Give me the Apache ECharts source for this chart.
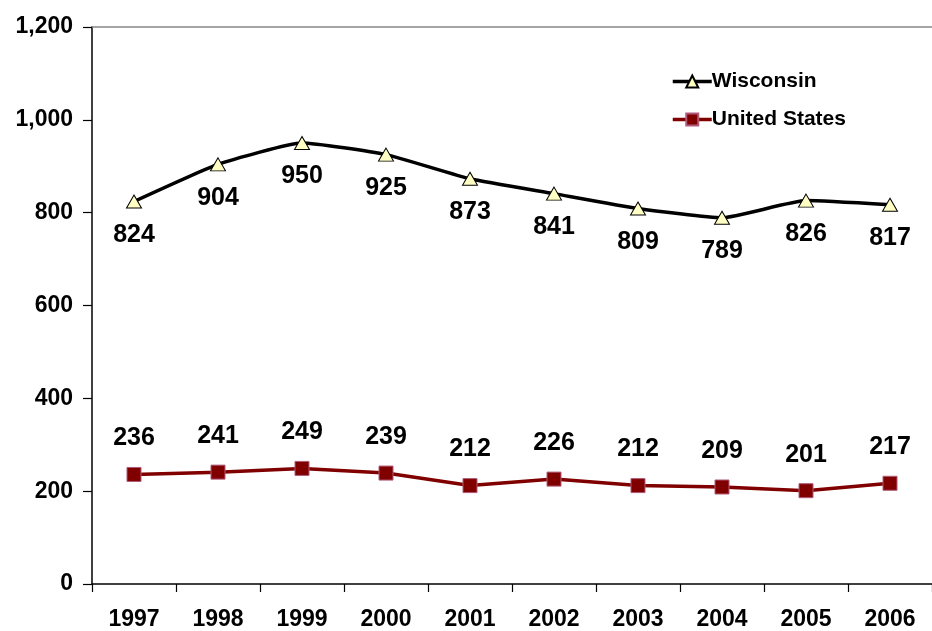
<!DOCTYPE html>
<html>
<head>
<meta charset="utf-8">
<script src="https://cdn.jsdelivr.net/npm/echarts@6/dist/echarts.min.js"></script>
<style>html,body{margin:0;padding:0;background:#fff}#c{width:932px;height:631px}</style>
</head>
<body>
<div id="c"></div>
<script>
var years = ['1997','1998','1999','2000','2001','2002','2003','2004','2005','2006'];
var wisconsin = [824, 904, 950, 925, 873, 841, 809, 789, 826, 817];
var unitedStates = [236, 241, 249, 239, 212, 226, 212, 209, 201, 217];
var yTicks = {min: 0, max: 1200, interval: 200};

var FONT = '"Liberation Sans", Arial, sans-serif';
var chart = echarts.init(document.getElementById('c'), null, {renderer: 'canvas'});
chart.setOption({
  animation: false,
  backgroundColor: '#fff',
  grid: {left: 92, right: 0, top: 27, bottom: 46, containLabel: false},
  legend: {
    orient: 'vertical', left: 666, top: 66, itemGap: 17,
    itemWidth: 39, itemHeight: 15,
    textStyle: {fontFamily: FONT, fontWeight: 'bold', fontSize: 21, color: '#000', padding: [0,0,0,-5]},
    data: [
      {name: 'Wisconsin', lineStyle: {width: 3.5}},
      {name: 'United States', lineStyle: {width: 3.5}}
    ]
  },
  xAxis: [{
    type: 'category', data: years, boundaryGap: true,
    axisLine: {lineStyle: {color: '#000', width: 1.5}},
    axisTick: {show: true, length: 8, alignWithLabel: false, lineStyle: {color: '#000', width: 1.2}},
    axisLabel: {fontFamily: FONT, fontWeight: 'bold', fontSize: 23, color: '#000', margin: 24},
    splitLine: {show: false}
  }, {
    type: 'category', data: years, position: 'top',
    axisLine: {lineStyle: {color: '#888', width: 1.5}},
    axisTick: {show: false}, axisLabel: {show: false}, splitLine: {show: false}
  }],
  yAxis: {
    type: 'value', min: yTicks.min, max: yTicks.max, interval: yTicks.interval,
    axisLine: {show: true, lineStyle: {color: '#000', width: 1.5}},
    axisTick: {show: true, length: 9, lineStyle: {color: '#000', width: 1.2}},
    axisLabel: {fontFamily: FONT, fontWeight: 'bold', fontSize: 23, color: '#000', margin: 19,
      formatter: function (v) { return v.toLocaleString('en-US'); }},
    splitLine: {show: false}
  },
  series: [{
    name: 'Wisconsin', type: 'line', data: wisconsin, smooth: 0.15,
    symbol: 'triangle', symbolSize: [15, 13],
    lineStyle: {color: '#000', width: 3.5},
    itemStyle: {color: '#FFFFC4', borderColor: '#000', borderWidth: 1},
    label: {show: true, position: 'bottom', distance: 14, fontFamily: FONT, fontWeight: 'bold', fontSize: 25, color: '#000'},
    z: 3
  }, {
    name: 'United States', type: 'line', data: unitedStates,
    symbol: 'rect', symbolSize: 14,
    lineStyle: {color: '#800000', width: 3.5},
    itemStyle: {color: '#800000', borderColor: '#B05A7A', borderWidth: 1},
    label: {show: true, position: 'top', distance: 16, fontFamily: FONT, fontWeight: 'bold', fontSize: 25, color: '#000'},
    z: 2
  }]
});
</script>
</body>
</html>
